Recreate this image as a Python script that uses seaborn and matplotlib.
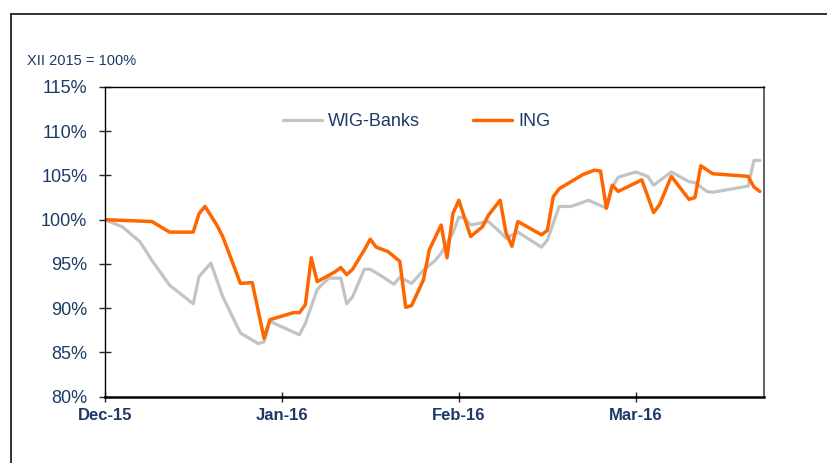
import numpy as np
import pandas as pd
import seaborn as sns
import matplotlib.pyplot as plt
from matplotlib.lines import Line2D

# values (index, XII 2015 = 100%)
month_ticks = [0, 30, 60, 90]
month_labels = ['Dec-15', 'Jan-16', 'Feb-16', 'Mar-16']

wig_day = [0, 3, 6, 8, 11, 15, 16, 18, 20, 23, 24, 26, 27, 28, 30, 33, 34, 36, 37,
           38, 40, 41, 42, 44, 45, 47, 49, 50, 52, 54, 56, 57, 59, 60, 61, 62, 65,
           67, 68, 70, 74, 75, 77, 79, 82, 83, 85, 86, 87, 90, 92, 93, 96, 99, 100,
           102, 103, 109, 110, 111]
wig_pct = [100.0, 99.2, 97.5, 95.4, 92.6, 90.5, 93.6, 95.1, 91.3, 87.2, 86.8, 86.0,
           86.2, 88.5, 87.9, 87.0, 88.3, 92.1, 92.8, 93.4, 93.4, 90.5, 91.3, 94.4,
           94.4, 93.6, 92.7, 93.5, 92.8, 94.3, 95.4, 96.2, 98.5, 100.3, 100.2, 99.4,
           99.8, 98.6, 97.9, 98.6, 96.9, 97.7, 101.5, 101.5, 102.2, 101.9, 101.3,
           103.7, 104.8, 105.4, 104.9, 103.9, 105.4, 104.3, 104.2, 103.2, 103.1,
           103.8, 106.7, 106.7]

ing_day = [0, 8, 11, 15, 16, 17, 19, 20, 23, 25, 27, 28, 32, 33, 34, 35, 36, 39, 40,
           41, 42, 44, 45, 46, 48, 50, 51, 52, 54, 55, 57, 58, 59, 60, 62, 64, 65,
           67, 68, 69, 70, 74, 75, 76, 77, 79, 81, 83, 84, 85, 86, 87, 91, 93, 94,
           96, 99, 100, 101, 103, 109, 110, 111]
ing_pct = [100.0, 99.8, 98.6, 98.6, 100.7, 101.5, 99.4, 98.1, 92.8, 92.9, 86.6, 88.7,
           89.5, 89.5, 90.4, 95.7, 93.0, 94.1, 94.6, 93.8, 94.4, 96.6, 97.8, 96.9,
           96.4, 95.3, 90.1, 90.3, 93.2, 96.6, 99.4, 95.7, 100.7, 102.2, 98.1, 99.2,
           100.5, 102.2, 98.5, 97.0, 99.8, 98.3, 98.8, 102.6, 103.5, 104.3, 105.1,
           105.6, 105.5, 101.3, 103.9, 103.2, 104.5, 100.8, 101.7, 104.9, 102.3,
           102.5, 106.1, 105.2, 104.9, 103.7, 103.2]

navy = '#1b3a66'

sns.set_style('white')
plt.rcParams['font.family'] = ['Liberation Sans', 'DejaVu Sans']

fig = plt.figure(figsize=(8.28, 4.63), dpi=100)
ax = fig.add_axes([0.1264, 0.1432, 0.7963, 0.6689])

sns.lineplot(x=wig_day, y=wig_pct, ax=ax, color='#c3c3c3', linewidth=2.3,
             label='WIG-Banks')
sns.lineplot(x=ing_day, y=ing_pct, ax=ax, color='#ff6600', linewidth=2.5,
             label='ING')

ax.set_xlim(0, 111.7)
ax.set_ylim(80, 115)
ax.set_yticks(np.arange(80, 116, 5))
ax.set_yticklabels([f'{v}%' for v in range(80, 116, 5)])
ax.set_xticks(month_ticks)
ax.set_xticklabels(month_labels)

ax.tick_params(axis='y', direction='inout', length=9, width=1, pad=8,
               labelsize=13, labelcolor=navy, left=True)
ax.tick_params(axis='x', direction='inout', length=6.5, width=1, pad=5,
               labelsize=12, labelcolor=navy, bottom=True)
for lab in ax.get_xticklabels():
    lab.set_fontweight('bold')

for side in ['left', 'top']:
    ax.spines[side].set_color('black')
    ax.spines[side].set_linewidth(1.0)
ax.spines['bottom'].set_color('black')
ax.spines['bottom'].set_linewidth(1.8)
ax.spines['right'].set_color('#555555')
ax.spines['right'].set_linewidth(1.3)

leg = ax.legend(loc='center', bbox_to_anchor=(0.473, 0.887), ncol=2,
                frameon=False, fontsize=13, handlelength=2.2,
                handletextpad=0.33, columnspacing=2.9)
for t in leg.get_texts():
    t.set_color(navy)

fig.text(0.0326, 0.868, 'XII 2015 = 100%', fontsize=10.5, color=navy,
         va='center', ha='left')

# outer frame (top and left edge)
fig.add_artist(Line2D([0.0133, 0.0133], [0.0, 0.970], transform=fig.transFigure,
                      color='#222222', linewidth=1.3))
fig.add_artist(Line2D([0.0133, 1.0], [0.970, 0.970], transform=fig.transFigure,
                      color='#222222', linewidth=1.3))

fig.savefig('out.png', dpi=100)
